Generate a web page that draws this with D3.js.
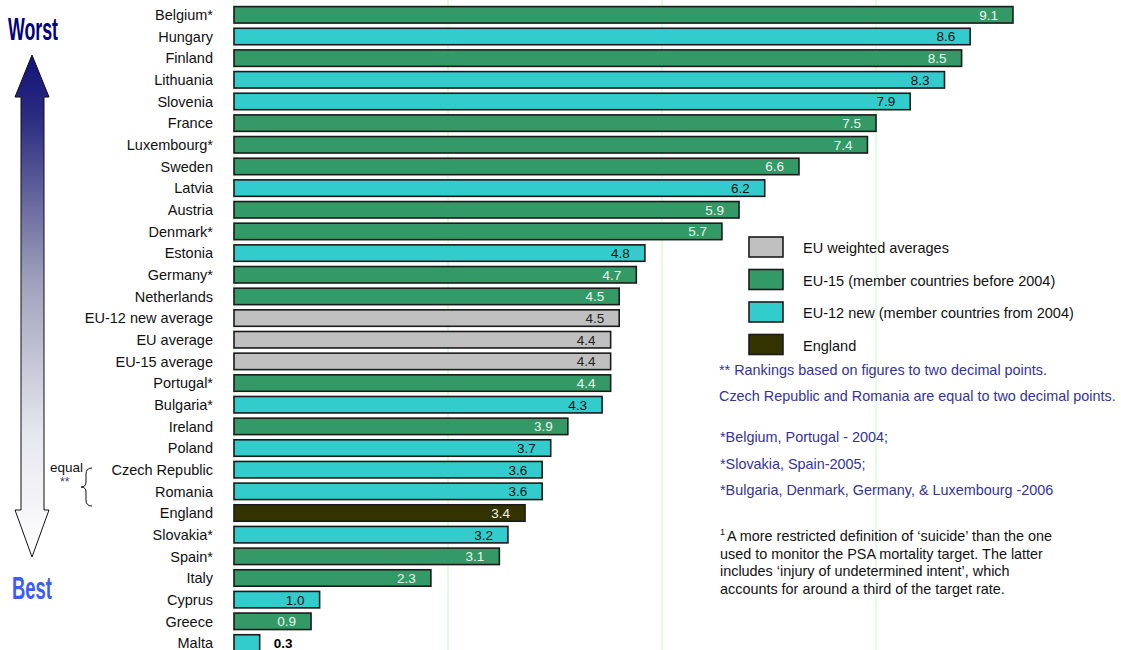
<!DOCTYPE html>
<html>
<head>
<meta charset="utf-8">
<script src="https://cdn.jsdelivr.net/npm/d3@7"></script>
<style>
  html, body { margin: 0; padding: 0; background: #fff; }
  svg { display: block; font-family: "Liberation Sans", Arial, sans-serif; }
</style>
</head>
<body>
<svg id="chart" width="1121" height="650"></svg>
<script>
// Suicide rates by EU member state, ranked worst to best
const countries = ["Belgium*", "Hungary", "Finland", "Lithuania", "Slovenia", "France", "Luxembourg*",
  "Sweden", "Latvia", "Austria", "Denmark*", "Estonia", "Germany*", "Netherlands", "EU-12 new average",
  "EU average", "EU-15 average", "Portugal*", "Bulgaria*", "Ireland", "Poland", "Czech Republic",
  "Romania", "England", "Slovakia*", "Spain*", "Italy", "Cyprus", "Greece", "Malta"];
const values = [9.1, 8.6, 8.5, 8.3, 7.9, 7.5, 7.4, 6.6, 6.2, 5.9, 5.7, 4.8, 4.7, 4.5, 4.5,
  4.4, 4.4, 4.4, 4.3, 3.9, 3.7, 3.6, 3.6, 3.4, 3.2, 3.1, 2.3, 1.0, 0.9, 0.3];
const groups = ["EU-15", "EU-12", "EU-15", "EU-12", "EU-12", "EU-15", "EU-15", "EU-15", "EU-12", "EU-15",
  "EU-15", "EU-12", "EU-15", "EU-15", "Average", "Average", "Average", "EU-15", "EU-12", "EU-15",
  "EU-12", "EU-12", "EU-12", "England", "EU-12", "EU-15", "EU-15", "EU-12", "EU-15", "EU-12"];
const gridTicks = [0, 2.5, 5, 7.5];

const legendKeys = ["Average", "EU-15", "EU-12", "England"];
const legendLabels = ["EU weighted averages", "EU-15 (member countries before 2004)",
  "EU-12 new (member countries from 2004)", "England"];
const notes = ["** Rankings based on figures to two decimal points.",
  "Czech Republic and Romania are equal to two decimal points."];
const yearNotes = ["*Belgium, Portugal - 2004;", "*Slovakia, Spain-2005;",
  "*Bulgaria, Denmark, Germany, &  Luxembourg -2006"];
const footnote = ["A more restricted definition of \u2018suicide\u2019 than the one",
  "used to monitor the PSA mortality target. The latter",
  "includes \u2018injury of undetermined intent\u2019, which",
  "accounts for around a third of the target rate."];

const fill = { "EU-15": "#339966", "EU-12": "#33cccc", "Average": "#c0c0c0", "England": "#333300" };
const labelColor = { "EU-15": "#eef6ee", "EU-12": "#111", "Average": "#222", "England": "#f2f2e8" };

const data = countries.map((c, i) => ({ name: c, value: values[i], group: groups[i] }));

const svg = d3.select("#chart");

const x = d3.scaleLinear().domain([0, 10]).range([234, 1090]);
const y = d3.scaleBand().domain(countries).range([4, 653.8]).paddingInner(0.24).paddingOuter(0.12);

// Vertical guide lines
svg.append("g").selectAll("line").data(gridTicks).join("line")
  .attr("x1", d => x(d)).attr("x2", d => x(d))
  .attr("y1", 0).attr("y2", 650)
  .attr("stroke", "#ccffcc").attr("stroke-width", 1.2);

// Chart title (runs off the top edge)
svg.append("text")
  .attr("x", 713).attr("y", -3)
  .attr("text-anchor", "end")
  .attr("font-size", 16).attr("font-weight", "bold").attr("fill", "#111")
  .text("Suicide\u00b9 rates (per 100,000 population)");

// Bars
svg.append("g").selectAll("rect").data(data).join("rect")
  .attr("x", x(0))
  .attr("y", d => y(d.name))
  .attr("width", d => x(d.value) - x(0))
  .attr("height", y.bandwidth())
  .attr("fill", d => fill[d.group])
  .attr("stroke", "#1b1b1b").attr("stroke-width", 1.6);

// Country labels
svg.append("g").selectAll("text").data(data).join("text")
  .attr("x", 213)
  .attr("y", d => y(d.name) + y.bandwidth() / 2)
  .attr("dy", "0.36em")
  .attr("text-anchor", "end")
  .attr("font-size", 14.5).attr("fill", "#111")
  .text(d => d.name);

// Value labels
svg.append("g").selectAll("text").data(data).join("text")
  .attr("x", d => d.value < 0.6 ? x(d.value) + 14 : x(d.value) - 15)
  .attr("y", d => y(d.name) + y.bandwidth() / 2)
  .attr("dy", "0.36em")
  .attr("text-anchor", d => d.value < 0.6 ? "start" : "end")
  .attr("font-size", 13.5)
  .attr("font-weight", d => d.value < 0.6 ? "bold" : "normal")
  .attr("fill", d => d.value < 0.6 ? "#000" : labelColor[d.group])
  .text(d => d.value.toFixed(1));

// Worst / Best arrow
const defs = svg.append("defs");
const grad = defs.append("linearGradient").attr("id", "arrowGrad")
  .attr("x1", 0).attr("y1", 0).attr("x2", 0).attr("y2", 1);
grad.append("stop").attr("offset", "0%").attr("stop-color", "#13137a");
grad.append("stop").attr("offset", "12%").attr("stop-color", "#2a2a80");
grad.append("stop").attr("offset", "45%").attr("stop-color", "#a0a0bc");
grad.append("stop").attr("offset", "75%").attr("stop-color", "#e6e6ee");
grad.append("stop").attr("offset", "100%").attr("stop-color", "#ffffff");

const arrowPts = [[32, 55], [49, 97], [44, 97], [44, 510], [49, 510], [32, 557], [15, 510],
  [21, 510], [21, 97], [15, 97]];
svg.append("path")
  .attr("d", d3.line()(arrowPts) + "Z")
  .attr("fill", "url(#arrowGrad)")
  .attr("stroke", "#111").attr("stroke-width", 1);

svg.append("text")
  .attr("x", 8).attr("y", 40)
  .attr("textLength", 50).attr("lengthAdjust", "spacingAndGlyphs")
  .attr("font-size", 31).attr("font-weight", "bold").attr("fill", "#000080")
  .text("Worst");
svg.append("text")
  .attr("x", 12).attr("y", 599)
  .attr("textLength", 40).attr("lengthAdjust", "spacingAndGlyphs")
  .attr("font-size", 31).attr("font-weight", "bold").attr("fill", "#3b5cf6")
  .text("Best");

// "equal" bracket for Czech Republic / Romania
svg.append("text").attr("x", 50).attr("y", 472).attr("font-size", 13.5).attr("fill", "#111").text("equal");
svg.append("text").attr("x", 60).attr("y", 486).attr("font-size", 12).attr("fill", "#333399").text("**");
svg.append("path")
  .attr("d", "M92,468 Q86,468 86,474 L86,482 Q86,487 81,487 Q86,487 86,492 L86,500 Q86,506 92,506")
  .attr("fill", "none").attr("stroke", "#111").attr("stroke-width", 1);

// Legend
const legend = svg.append("g").selectAll("g").data(legendKeys).join("g")
  .attr("transform", (d, i) => `translate(749,${237 + i * 32.5})`);
legend.append("rect")
  .attr("width", 34).attr("height", 20)
  .attr("fill", d => fill[d])
  .attr("stroke", "#1b1b1b").attr("stroke-width", 1.6);
legend.append("text")
  .attr("x", 54).attr("y", 11).attr("dy", "0.36em")
  .attr("font-size", 14.5).attr("fill", "#111")
  .text((d, i) => legendLabels[i]);

// Notes
svg.append("g").selectAll("text").data(notes).join("text")
  .attr("x", 719).attr("y", (d, i) => 375 + i * 26)
  .attr("font-size", 14.4).attr("fill", "#333399")
  .text(d => d);
svg.append("g").selectAll("text").data(yearNotes).join("text")
  .attr("x", 720).attr("y", (d, i) => 442 + i * 26.5)
  .attr("font-size", 14.4).attr("fill", "#333399")
  .text(d => d);

const foot = svg.append("g");
foot.selectAll("text").data(footnote).join("text")
  .attr("x", (d, i) => i === 0 ? 727 : 720)
  .attr("y", (d, i) => 541 + i * 17.5)
  .attr("font-size", 14.4).attr("fill", "#111")
  .text(d => d);
foot.append("text").attr("x", 720).attr("y", 535).attr("font-size", 9).attr("fill", "#111").text("1");
</script>
</body>
</html>
